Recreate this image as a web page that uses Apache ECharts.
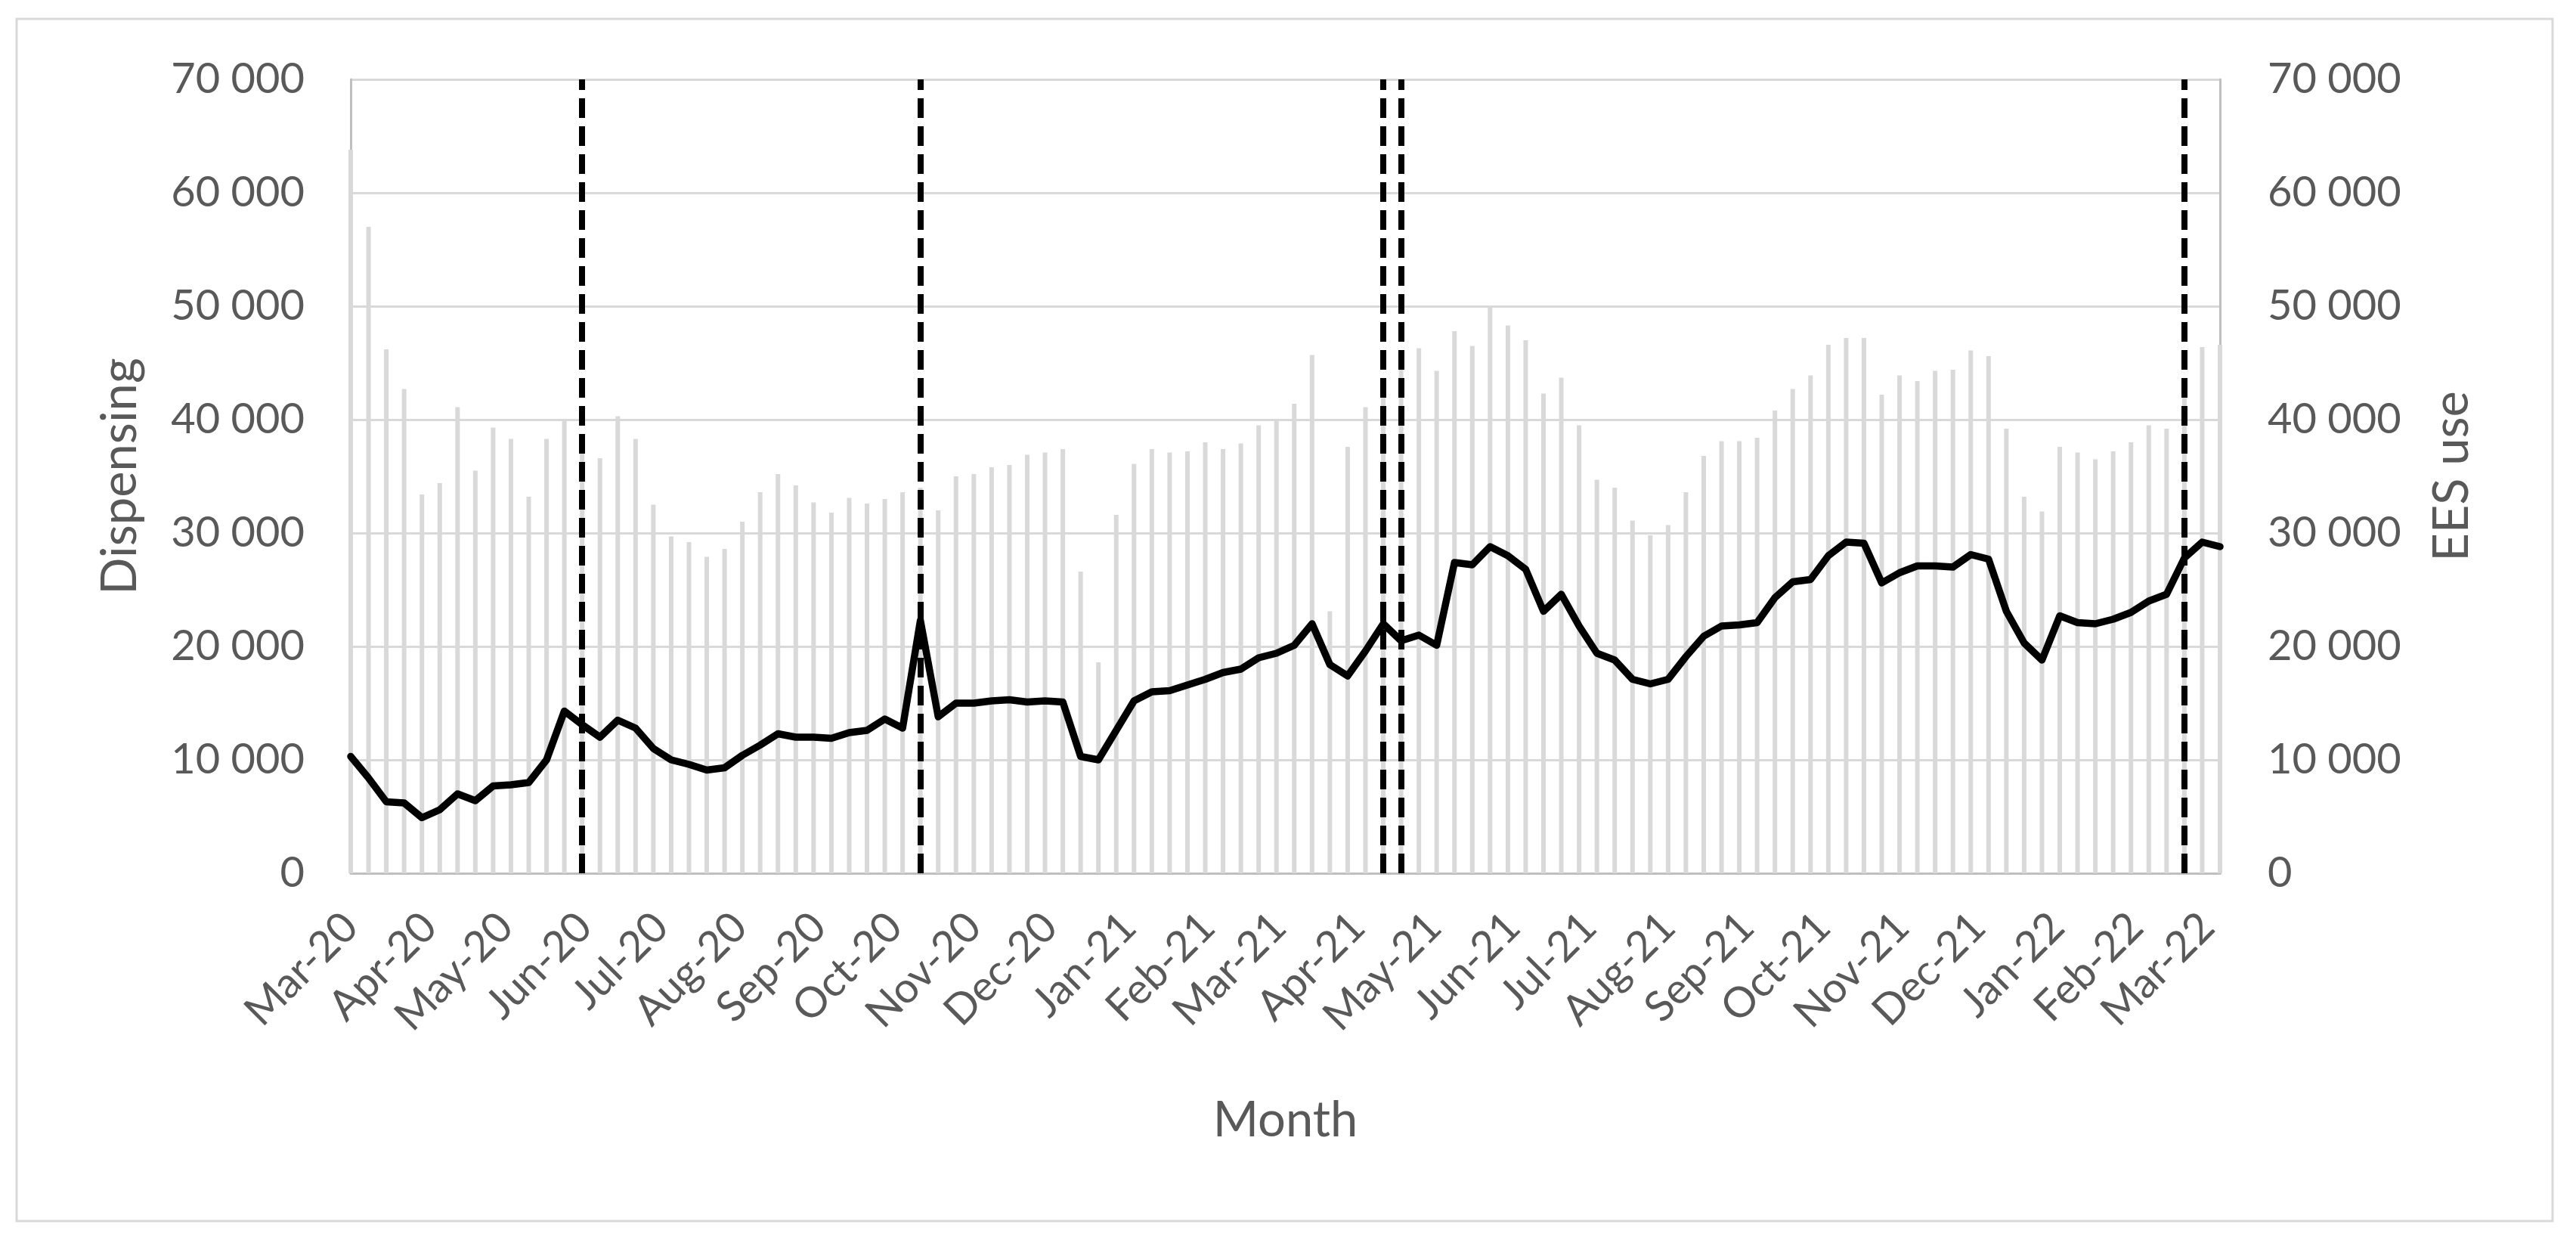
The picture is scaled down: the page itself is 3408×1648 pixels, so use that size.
<!DOCTYPE html>
<html>
<head>
<meta charset="utf-8">
<script src="https://cdn.jsdelivr.net/npm/echarts@6/dist/echarts.min.js"></script>
<style>
html,body{margin:0;padding:0;background:#fff;}
#chart{width:3408px;height:1648px;}
</style>
</head>
<body>
<div id="chart"></div>
<script>
// First week of the weekly series (1 March 2020); one point per week
const FIRST_WEEK = [2020, 2, 1];

// Weekly dispensing (grey bars, left axis)
const dispensing = [
  63800, 57000, 46200, 42700, 33400, 34400, 41100, 35500, 39300, 38300,
  33200, 38300, 40000, 38500, 36600, 40300, 38300, 32500, 29700, 29200,
  27900, 28600, 31000, 33600, 35200, 34200, 32700, 31800, 33100, 32600,
  33000, 33600, 34000, 32000, 35000, 35200, 35800, 36000, 36900, 37100,
  37400, 26600, 18600, 31600, 36100, 37400, 37100, 37200, 38000, 37400,
  37900, 39500, 40000, 41400, 45700, 23100, 37600, 41100, 43500, 44500,
  46300, 44300, 47800, 46500, 49900, 48300, 47000, 42300, 43700, 39500,
  34700, 34000, 31100, 29800, 30700, 33600, 36800, 38100, 38100, 38400,
  40800, 42700, 43900, 46600, 47200, 47200, 42200, 43900, 43400, 44300,
  44400, 46100, 45600, 39200, 33200, 31900, 37600, 37100, 36500, 37200,
  38000, 39500, 39200, 42000, 46400, 46600
];

// Weekly EES use (black line, right axis)
const eesUse = [
  10300, 8400, 6300, 6200, 4900, 5600, 7000, 6400, 7700, 7800,
  8000, 10000, 14300, 13100, 12000, 13500, 12800, 11000, 10000, 9600,
  9100, 9300, 10400, 11300, 12300, 12000, 12000, 11900, 12400, 12600,
  13600, 12800, 22300, 13800, 15000, 15000, 15200, 15300, 15100, 15200,
  15100, 10300, 10000, 12600, 15200, 16000, 16100, 16600, 17100, 17700,
  18000, 19000, 19400, 20100, 22000, 18400, 17400, 19600, 22000, 20500,
  21000, 20100, 27400, 27200, 28800, 28000, 26800, 23100, 24600, 21800,
  19400, 18800, 17100, 16700, 17100, 19100, 20900, 21800, 21900, 22100,
  24300, 25700, 25900, 28000, 29200, 29100, 25600, 26500, 27100, 27100,
  27000, 28100, 27700, 23100, 20300, 18800, 22700, 22100, 22000, 22400,
  23000, 24000, 24600, 27800, 29200, 28800
];

// Weeks (index into the series) marked with dashed vertical lines
const eventWeeks = [13, 32, 58, 59, 103];

// Month tick labels, one per month starting March 2020
const monthTickLabels = [
  'Mar-20','Apr-20','May-20','Jun-20','Jul-20','Aug-20','Sep-20','Oct-20','Nov-20','Dec-20',
  'Jan-21','Feb-21','Mar-21','Apr-21','May-21','Jun-21','Jul-21','Aug-21','Sep-21','Oct-21',
  'Nov-21','Dec-21','Jan-22','Feb-22','Mar-22'
];

const yTicks = [0, 10000, 20000, 30000, 40000, 50000, 60000, 70000];

const weekDates = dispensing.map((_, i) =>
  new Date(FIRST_WEEK[0], FIRST_WEEK[1], FIRST_WEEK[2] + 7 * i).getTime());
const monthTicks = monthTickLabels.map((_, i) =>
  new Date(FIRST_WEEK[0], FIRST_WEEK[1] + i, 1).getTime());

function monthLabel(v) {
  let best = 0, bestD = Infinity;
  monthTicks.forEach((t, i) => { const d = Math.abs(t - v); if (d < bestD) { bestD = d; best = i; } });
  return monthTickLabels[best];
}
function spaced(v) {
  return String(Math.round(v)).replace(/\B(?=(\d{3})+(?!\d))/g, ' ');
}

const FONT = 'Lato';
const TXT = '#595959';

const chart = echarts.init(document.getElementById('chart'));
chart.setOption({
  animation: false,
  backgroundColor: '#ffffff',
  textStyle: { fontFamily: FONT },
  graphic: [{
    type: 'rect',
    shape: { x: 22, y: 25, width: 3355, height: 1590 },
    style: { fill: 'none', stroke: '#d9d9d9', lineWidth: 3 },
    silent: true
  }],
  grid: { left: 464, right: 471, top: 105, bottom: 493, containLabel: false },
  xAxis: {
    type: 'value',
    min: weekDates[0],
    max: weekDates[weekDates.length - 1],
    axisLine: { show: true, onZero: false, lineStyle: { color: '#bfbfbf', width: 3 } },
    axisTick: { show: false },
    splitLine: { show: false },
    axisLabel: {
      customValues: monthTicks,
      rotate: 45,
      margin: 62,
      color: TXT,
      fontFamily: FONT,
      fontSize: 56,
      hideOverlap: false,
      showMinLabel: true,
      showMaxLabel: true,
      formatter: (v) => monthLabel(v)
    },
    name: 'Month',
    nameLocation: 'middle',
    nameGap: 295,
    nameTextStyle: { color: TXT, fontFamily: FONT, fontSize: 65 }
  },
  yAxis: [{
    type: 'value',
    position: 'left',
    min: yTicks[0], max: yTicks[yTicks.length - 1], interval: 10000,
    axisLine: { show: true, lineStyle: { color: '#bfbfbf', width: 3 } },
    axisTick: { show: false },
    splitLine: { show: true, lineStyle: { color: '#d9d9d9', width: 3 } },
    axisLabel: { margin: 61, color: TXT, fontFamily: FONT, fontSize: 56, formatter: spaced },
    name: 'Dispensing',
    nameLocation: 'middle',
    nameRotate: 90,
    nameGap: 272,
    nameTextStyle: { color: TXT, fontFamily: FONT, fontSize: 65 }
  }, {
    type: 'value',
    position: 'right',
    min: yTicks[0], max: yTicks[yTicks.length - 1], interval: 10000,
    axisLine: { show: true, lineStyle: { color: '#bfbfbf', width: 3 } },
    axisTick: { show: false },
    splitLine: { show: false },
    axisLabel: { margin: 63, color: TXT, fontFamily: FONT, fontSize: 56, formatter: spaced },
    name: 'EES use',
    nameLocation: 'middle',
    nameRotate: 90,
    nameGap: 275,
    nameTextStyle: { color: TXT, fontFamily: FONT, fontSize: 65 }
  }],
  series: [{
    name: 'Dispensing',
    type: 'bar',
    yAxisIndex: 0,
    data: weekDates.map((t, i) => [t, dispensing[i]]),
    barWidth: 6,
    clip: false,
    itemStyle: { color: '#d9d9d9' },
    z: 1
  }, {
    name: 'EES use',
    type: 'line',
    yAxisIndex: 1,
    data: weekDates.map((t, i) => [t, eesUse[i]]),
    symbol: 'none',
    lineStyle: { color: '#000000', width: 9.5, join: 'round', cap: 'round' },
    z: 3,
    markLine: {
      silent: true,
      symbol: ['none', 'none'],
      label: { show: false },
      lineStyle: { color: '#000000', width: 8, type: [26, 11] },
      data: eventWeeks.map(i => ({ xAxis: weekDates[i] }))
    }
  }]
});
</script>
</body>
</html>
